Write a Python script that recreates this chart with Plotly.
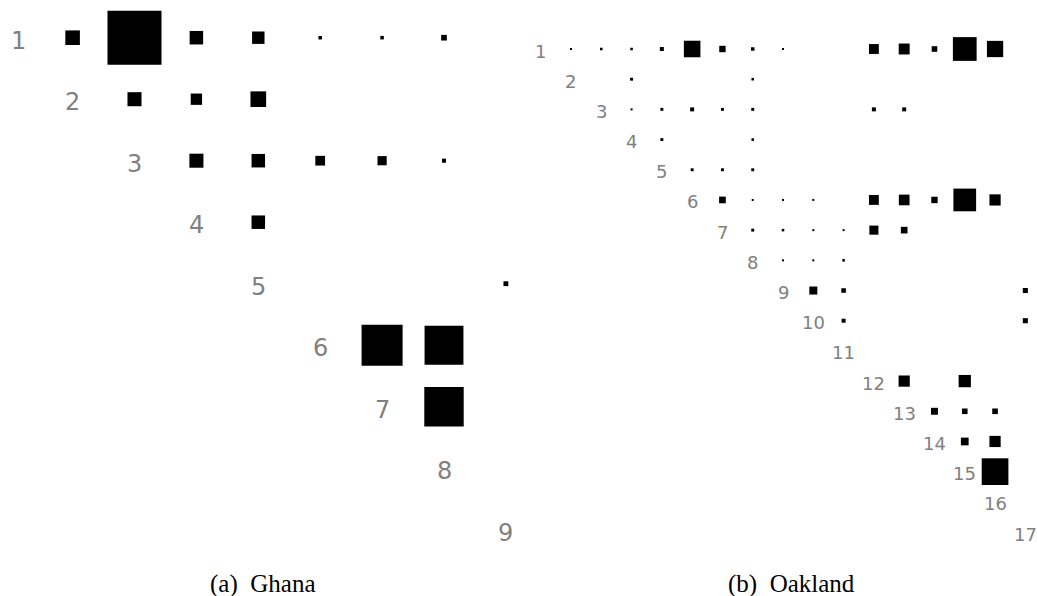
import plotly.graph_objects as go

# ---- Ghana: upper-triangular pair weights (row, column, weight) ----
ghana_labels = [str(i) for i in range(1, 10)]
ghana_rows = [1, 1, 1, 1, 1, 1, 1, 2, 2, 2, 3, 3, 3, 3, 3, 4, 5, 6, 6, 7]
ghana_cols = [2, 3, 4, 5, 6, 7, 8, 3, 4, 5, 4, 5, 6, 7, 8, 5, 9, 7, 8, 8]
ghana_weights = [27, 100, 25, 23, 6.5, 6.5, 10.5, 26, 21, 29, 26, 25, 18, 17, 7.5,
                 25, 9, 76, 72, 73]

# ---- Oakland: upper-triangular pair weights (row, column, weight) ----
oak_labels = [str(i) for i in range(1, 18)]
oak_rows = [1] * 13 + [2] * 2 + [3] * 7 + [4] * 2 + [5] * 3 + [6] * 9 + [7] * 6 + \
           [8] * 3 + [9] * 3 + [10] * 2 + [12] * 2 + [13] * 3 + [14] * 2 + [15]
oak_cols = [2, 3, 4, 5, 6, 7, 8, 9, 12, 13, 14, 15, 16,
            4, 8,
            4, 5, 6, 7, 8, 12, 13,
            5, 8,
            6, 7, 8,
            7, 8, 9, 10, 12, 13, 14, 15, 16,
            8, 9, 10, 11, 12, 13,
            9, 10, 11,
            10, 11, 17,
            11, 17,
            13, 15,
            14, 15, 16,
            15, 16,
            16]
oak_weights = [7.5, 9.5, 9.5, 15, 62, 24, 13, 7.5, 37, 41, 21, 89, 61,
               11, 9.5,
               7.5, 11, 15, 11, 11, 15, 15,
               11, 9.5,
               11, 11, 11,
               25, 7.5, 7.5, 7.5, 37, 40, 24, 85, 42,
               11, 9.5, 7.5, 7.5, 34, 25,
               7.5, 7.5, 9.5,
               30, 17, 19,
               15, 19,
               42, 46,
               26, 21, 21,
               29, 42,
               100]

W, H = 1037, 596
GHANA_MAX_PX = 54      # side of the largest Ghana square
OAK_MAX_PX = 26.7      # side of the largest Oakland square
GRAY = "rgb(128,128,128)"
LABEL_FONT = "DejaVu Sans, Verdana, sans-serif"
CAPTION_FONT = "Liberation Serif, Times New Roman, serif"

fig = go.Figure()

fig.add_trace(go.Scatter(
    x=ghana_cols, y=ghana_rows, mode="markers",
    marker=dict(symbol="square", color="black", opacity=1, line=dict(width=0),
                size=[w / 100 * GHANA_MAX_PX for w in ghana_weights]),
    xaxis="x", yaxis="y", hoverinfo="skip", showlegend=False))

fig.add_trace(go.Scatter(
    x=oak_cols, y=oak_rows, mode="markers",
    marker=dict(symbol="square", color="black", opacity=1, line=dict(width=0),
                size=[w / 100 * OAK_MAX_PX for w in oak_weights]),
    xaxis="x2", yaxis="y2", hoverinfo="skip", showlegend=False))

annotations = []
for i, lab in enumerate(ghana_labels):
    annotations.append(dict(
        x=i + 1, y=i + 1, xref="x", yref="y", text=lab, showarrow=False,
        xanchor="center", yanchor="middle", xshift=8 if i == 0 else 0, yshift=-3,
        font=dict(family=LABEL_FONT, size=24, color=GRAY)))
for i, lab in enumerate(oak_labels):
    annotations.append(dict(
        x=i + 1, y=i + 1, xref="x2", yref="y2", text=lab, showarrow=False,
        xanchor="center", yanchor="middle", yshift=-2,
        font=dict(family=LABEL_FONT, size=18, color=GRAY)))

for cx, caption in ((263, "(a)\u00a0\u00a0Ghana"), (791, "(b)\u00a0\u00a0Oakland")):
    annotations.append(dict(x=cx / W, y=1 - 584 / H, xref="paper", yref="paper",
                            xanchor="center", yanchor="middle",
                            text=caption, showarrow=False,
                            font=dict(family=CAPTION_FONT, size=25, color="black")))

# grid geometry: cell pitch and position of cell (1,1) in pixels
g_x0, g_dx, g_y0, g_dy = 10.7, 61.9, 37.7, 61.5
o_x0, o_dx, o_y0, o_dy = 540.7, 30.29, 49.0, 30.19
split = 520

def axis_off(**kw):
    return dict(visible=False, showgrid=False, zeroline=False, fixedrange=True, **kw)

fig.update_layout(
    width=W, height=H,
    margin=dict(l=0, r=0, t=0, b=0),
    paper_bgcolor="white", plot_bgcolor="white",
    xaxis=axis_off(domain=[0, split / W],
                   range=[1 + (0 - g_x0) / g_dx, 1 + (split - g_x0) / g_dx]),
    yaxis=axis_off(domain=[0, 1],
                   range=[1 + (H - g_y0) / g_dy, 1 + (0 - g_y0) / g_dy]),
    xaxis2=axis_off(domain=[split / W, 1], anchor="y2",
                    range=[1 + (split - o_x0) / o_dx, 1 + (W - o_x0) / o_dx]),
    yaxis2=axis_off(domain=[0, 1], anchor="x2",
                    range=[1 + (H - o_y0) / o_dy, 1 + (0 - o_y0) / o_dy]),
    annotations=annotations,
)

fig.write_html("out.html")
